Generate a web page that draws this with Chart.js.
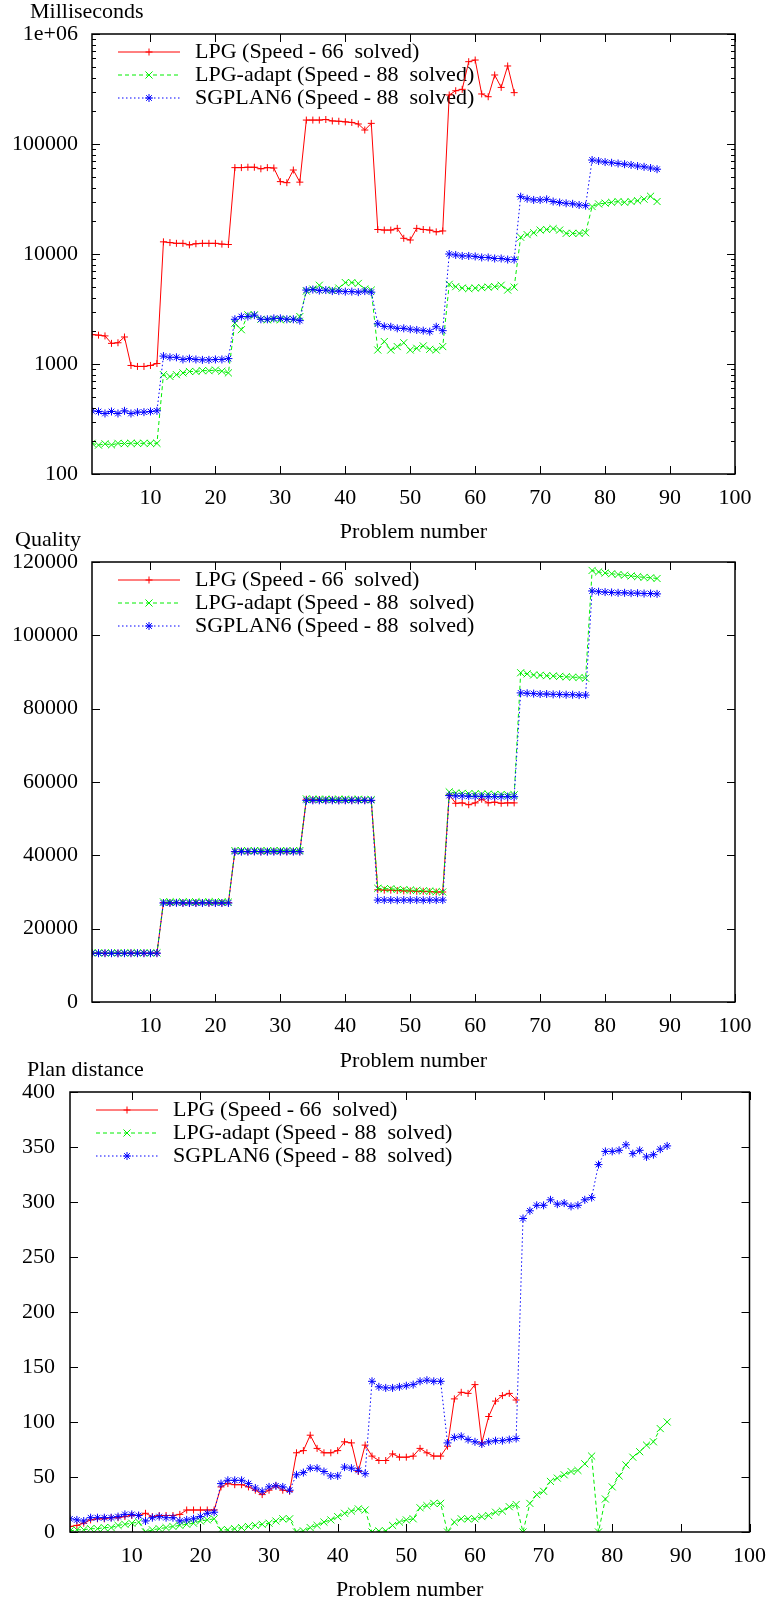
<!DOCTYPE html>
<html><head><meta charset="utf-8">
<script src="https://cdn.jsdelivr.net/npm/chart.js@4/dist/chart.umd.min.js"></script>
<style>
html,body{margin:0;padding:0;background:#fff;width:777px;height:1603px;overflow:hidden;}
.box{position:absolute;left:0;width:777px;}
canvas{display:block;}
</style></head><body>
<div class="box" style="top:0;height:548px"><canvas id="c1" width="777" height="548"></canvas></div>
<div class="box" style="top:528px;height:548px"><canvas id="c2" width="777" height="548"></canvas></div>
<div class="box" style="top:1058px;height:545px"><canvas id="c3" width="777" height="545"></canvas></div>
<script>
// ---------- data ----------
const problems = [1,2,3,4,5,6,7,8,9,10,11,12,13,14,15,16,17,18,19,20,21,22,23,24,25,26,27,28,29,30,31,32,33,34,35,36,37,38,39,40,41,42,43,44,45,46,47,48,49,50,51,52,53,54,55,56,57,58,59,60,61,62,63,64,65,66,67,68,69,70,71,72,73,74,75,76,77,78,79,80,81,82,83,84,85,86,87,88];
const xTickValues = [10,20,30,40,50,60,70,80,90,100];
const xTickLabels = ['10','20','30','40','50','60','70','80','90','100'];
const seriesNames = ['LPG (Speed - 66  solved)','LPG-adapt (Speed - 88  solved)','SGPLAN6 (Speed - 88  solved)'];

// Milliseconds (log scale)
const timeLPG = [1850,1830,1800,1540,1560,1760,970,950,950,970,1010,
 12900,12700,12500,12500,12100,12400,12500,12500,12500,12300,12200,
 61000,61000,61500,61500,59500,61000,60500,45500,44500,58000,45000,
 165000,165000,165000,167000,162000,161000,159000,157000,152000,134000,154000,
 16700,16500,16500,17100,13900,13400,17100,16700,16500,15900,16200,
 279000,305000,314000,560000,580000,285000,269000,424000,327000,512000,293000];
const timeAdapt = [190,183,188,184,190,189,190,190,190,190,190,
 800,770,800,830,855,855,870,870,880,860,830,
 2350,2050,2800,2800,2550,2520,2550,2520,2550,2550,2700,
 4600,4800,5200,4700,4700,4900,5500,5500,5400,4800,4700,
 1340,1600,1340,1440,1560,1340,1390,1460,1360,1340,1440,
 5300,5050,4900,4850,4900,4950,5000,5050,5200,4700,5000,
 14200,15000,15600,16500,16700,17000,16500,15400,15400,15400,15600,
 27000,28500,29000,29500,30000,29500,30000,30500,31500,33500,30000];
const timeSG = [375,370,355,370,355,375,355,365,365,370,375,
 1180,1150,1150,1100,1120,1100,1090,1090,1100,1100,1120,
 2550,2700,2700,2780,2550,2550,2600,2600,2550,2550,2480,
 4700,4750,4650,4700,4600,4600,4550,4550,4500,4600,4500,
 2320,2200,2180,2110,2110,2070,2040,2010,1970,2180,2010,
 10000,9800,9600,9600,9500,9300,9300,9100,9100,8900,8900,
 33200,31800,31000,31000,31400,30000,29400,28900,28600,27900,27500,
 71500,70000,68500,67500,66500,65500,64500,63000,62000,60500,59000];
const timeTicks = [100,1000,10000,100000,1000000];
const timeTickLabels = ['100','1000','10000','100000','1e+06'];
const timeMinorTicks = [200,300,400,500,600,700,800,900,2000,3000,4000,5000,6000,7000,8000,9000,20000,30000,40000,50000,60000,70000,80000,90000,200000,300000,400000,500000,600000,700000,800000,900000];

// Quality
const qualLPG = [13300,13350,13300,13250,13300,13300,13350,13300,13300,13300,13350,
 27100,27000,27100,27000,27050,27000,27100,27000,27050,27000,27100,
 41000,41100,41000,41050,41000,41000,41050,41000,41000,41050,41000,
 55300,55100,55200,55000,55100,55000,55000,55000,55000,55000,54900,
 30600,30500,30500,30400,30300,30300,30200,30200,30100,30000,30000,
 56500,54200,54300,53800,54300,55300,54300,54500,54200,54300,54300];
const qualAdapt = [13400,13400,13350,13400,13400,13350,13400,13400,13400,13350,13400,
 27300,27300,27250,27300,27300,27300,27250,27300,27300,27300,27250,
 41300,41300,41250,41300,41300,41250,41300,41300,41300,41250,41300,
 55400,55300,55300,55300,55250,55300,55300,55200,55300,55200,55200,
 31000,30900,30900,30700,30650,30500,30450,30300,30250,30100,30000,
 57300,57000,56900,56800,56800,56700,56700,56600,56600,56500,56500,
 89800,89500,89200,89100,89000,88900,88800,88700,88600,88500,88300,
 117700,117300,117000,116800,116600,116400,116200,116000,115800,115700,115500];
const qualSG = [13300,13300,13300,13300,13250,13300,13300,13300,13300,13300,13300,
 27000,27000,27050,27000,27000,27000,27000,27050,27000,27000,27000,
 41000,41000,41000,41050,41000,41000,41000,41000,41050,41000,41000,
 55000,55000,55000,55000,55000,54950,55000,55000,55000,55000,55000,
 27800,27800,27800,27750,27800,27800,27800,27750,27800,27800,27800,
 56300,56200,56200,56100,56100,56100,56000,56000,56000,56000,56000,
 84300,84200,84100,84000,84000,83900,83900,83800,83800,83700,83700,
 112100,111900,111800,111700,111600,111600,111500,111500,111400,111400,111300];
const qualTicks = [0,20000,40000,60000,80000,100000,120000];
const qualTickLabels = ['0','20000','40000','60000','80000','100000','120000'];

// Plan distance
const distLPG = [5,6,8,11,12,12,13,13,14,15,15,
 17,14,15,15,15,16,20,20,20,20,20,
 41,44,43,43,41,38,34,38,42,38,37,
 72,74,88,76,72,72,74,82,81,55,79,
 69,65,65,71,68,68,69,76,72,69,69,
 78,121,127,126,134,81,105,119,124,126,120];
const distAdapt = [1,2,2,3,3,4,4,6,7,8,9,
 0,2,3,4,5,6,7,8,10,11,12,
 2,2,3,4,5,6,7,8,10,12,12,
 0,1,4,6,9,11,14,17,19,21,20,
 0,1,1,6,9,11,12,22,24,26,26,
 0,9,12,12,12,14,15,18,19,23,25,
 0,26,34,37,46,49,52,55,56,62,69,
 0,30,41,51,61,68,73,79,82,94,100];
const distSG = [12,11,10,13,13,13,13,14,16,16,15,
 10,13,14,13,13,10,11,12,14,17,18,
 44,47,47,47,44,40,37,41,42,41,38,
 52,54,58,58,55,51,51,59,58,56,53,
 137,132,131,131,132,133,134,137,138,137,137,
 81,86,87,84,82,80,82,83,83,84,85,
 285,292,297,297,302,298,299,296,297,302,304,
 334,346,346,347,352,344,347,341,343,348,351];
const distTicks = [0,50,100,150,200,250,300,350,400];
const distTickLabels = ['0','50','100','150','200','250','300','350','400'];

// ---------- styling ----------
const FONT = '22px "Liberation Serif", "DejaVu Serif", serif';
Chart.defaults.font.family = '"Liberation Serif", "DejaVu Serif", serif';
Chart.defaults.font.size = 22;
Chart.defaults.color = '#000';

const styles = [
  {color:'#ff0000', dash:[], pointStyle:'cross', r:3.5, order:2},
  {color:'#00ee00', dash:[4,3], pointStyle:'crossRot', r:5, order:1},
  {color:'#0000ff', dash:[1.5,2.5], pointStyle:'star', r:4, order:0}
];

function drawMarker(ctx, s, cx, cy) {
  const r = s.r;
  ctx.beginPath();
  if (s.pointStyle === 'cross' || s.pointStyle === 'star') {
    ctx.moveTo(cx - r, cy); ctx.lineTo(cx + r, cy);
    ctx.moveTo(cx, cy - r); ctx.lineTo(cx, cy + r);
  }
  if (s.pointStyle === 'crossRot' || s.pointStyle === 'star') {
    const d = r * Math.SQRT1_2;
    ctx.moveTo(cx - d, cy - d); ctx.lineTo(cx + d, cy + d);
    ctx.moveTo(cx - d, cy + d); ctx.lineTo(cx + d, cy - d);
  }
  ctx.stroke();
}

const gnuplotFrame = {
  id: 'gnuplotFrame',
  beforeDatasetsDraw(chart, args, o) {
    const {ctx, chartArea: a} = chart;
    ctx.save();
    seriesNames.forEach((name, i) => {
      const s = styles[i];
      const y = a.top + 18 + i * 23;
      ctx.strokeStyle = s.color; ctx.lineWidth = 1; ctx.setLineDash(s.dash);
      ctx.beginPath(); ctx.moveTo(a.left + 26, y); ctx.lineTo(a.left + 88, y); ctx.stroke();
      ctx.setLineDash([]);
      drawMarker(ctx, s, a.left + 57, y);
      ctx.fillStyle = '#000'; ctx.font = FONT; ctx.textBaseline = 'middle'; ctx.textAlign = 'left';
      ctx.fillText(name, a.left + 103, y);
    });
    ctx.restore();
  },
  afterDatasetsDraw(chart, args, o) {
    const {ctx, chartArea: a, scales: {x, y}} = chart;
    ctx.save();
    ctx.strokeStyle = '#000'; ctx.lineWidth = 1; ctx.setLineDash([]);
    const seg = (x1, y1, x2, y2) => { ctx.beginPath(); ctx.moveTo(x1, y1); ctx.lineTo(x2, y2); ctx.stroke(); };
    o.xTicks.forEach(v => { const p = Math.round(x.getPixelForValue(v)) + 0.5; seg(p, a.bottom, p, a.bottom - 8); seg(p, a.top, p, a.top + 8); });
    o.yTicks.forEach(v => { const p = Math.round(y.getPixelForValue(v)) + 0.5; seg(a.left, p, a.left + 8, p); seg(a.right, p, a.right - 8, p); });
    (o.yMinor || []).forEach(v => { const p = Math.round(y.getPixelForValue(v)) + 0.5; seg(a.left, p, a.left + 4, p); seg(a.right, p, a.right - 4, p); });
    ctx.lineWidth = 1.5;
    ctx.strokeRect(a.left, a.top, a.right - a.left, a.bottom - a.top);
    ctx.fillStyle = '#000'; ctx.font = FONT; ctx.textAlign = 'left'; ctx.textBaseline = 'middle';
    ctx.fillText(o.caption, o.captionX, o.captionY);
    ctx.restore();
  }
};

function makeChart(id, cfg) {
  const datasets = cfg.values.map((vals, i) => {
    const s = styles[i];
    return {
      label: seriesNames[i],
      data: vals.map((v, k) => ({x: problems[k], y: v})),
      borderColor: s.color, backgroundColor: s.color,
      borderWidth: 1, borderDash: s.dash,
      pointStyle: s.pointStyle, pointRadius: s.r, pointBorderWidth: 1,
      pointBorderColor: s.color, pointBackgroundColor: s.color,
      tension: 0, fill: false, order: s.order
    };
  });
  return new Chart(document.getElementById(id), {
    type: 'line',
    data: {datasets},
    options: {
      responsive: false, animation: false, events: [],
      devicePixelRatio: 1,
      layout: {padding: {top: 34, left: 0, right: cfg.right, bottom: 0}},
      plugins: {
        legend: {display: false}, tooltip: {enabled: false},
        gnuplotFrame: {xTicks: xTickValues, yTicks: cfg.yTicks, yMinor: cfg.yMinor,
          caption: cfg.caption, captionX: cfg.captionX, captionY: 12}
      },
      scales: {
        x: {
          type: 'linear', min: 1, max: 100,
          grid: {display: false, drawTicks: false, tickLength: 0}, border: {display: false},
          afterBuildTicks: s => { s.ticks = xTickValues.map(v => ({value: v})); },
          afterFit: s => { s.height = cfg.height - 474; },
          ticks: {padding: 11, maxRotation: 0, autoSkip: false, color: '#000',
            callback: (v, i) => xTickLabels[i]},
          title: {display: true, text: 'Problem number', color: '#000',
            padding: {top: 0, bottom: cfg.titlePad}}
        },
        y: {
          type: cfg.yType, min: cfg.yMin, max: cfg.yMax,
          grid: {display: false, drawTicks: false, tickLength: 0}, border: {display: false},
          afterBuildTicks: s => { s.ticks = cfg.yTicks.map(v => ({value: v})); },
          afterFit: s => { s.width = cfg.left; },
          ticks: {padding: cfg.yPad, autoSkip: false, color: '#000',
            callback: (v, i) => cfg.yTickLabels[i]}
        }
      }
    },
    plugins: [gnuplotFrame]
  });
}

makeChart('c1', {values: [timeLPG, timeAdapt, timeSG], yType: 'logarithmic', yMin: 100, yMax: 1000000,
  yTicks: timeTicks, yTickLabels: timeTickLabels, yMinor: timeMinorTicks,
  caption: 'Milliseconds', captionX: 30, left: 92, right: 42, height: 548, titlePad: 3, yPad: 14});
makeChart('c2', {values: [qualLPG, qualAdapt, qualSG], yType: 'linear', yMin: 0, yMax: 120000,
  yTicks: qualTicks, yTickLabels: qualTickLabels, yMinor: [],
  caption: 'Quality', captionX: 15, left: 92, right: 42, height: 548, titlePad: 2, yPad: 14});
makeChart('c3', {values: [distLPG, distAdapt, distSG], yType: 'linear', yMin: 0, yMax: 400,
  yTicks: distTicks, yTickLabels: distTickLabels, yMinor: [],
  caption: 'Plan distance', captionX: 27, left: 70, right: 22, height: 545, titlePad: 0, yPad: 15});
</script>
</body></html>
